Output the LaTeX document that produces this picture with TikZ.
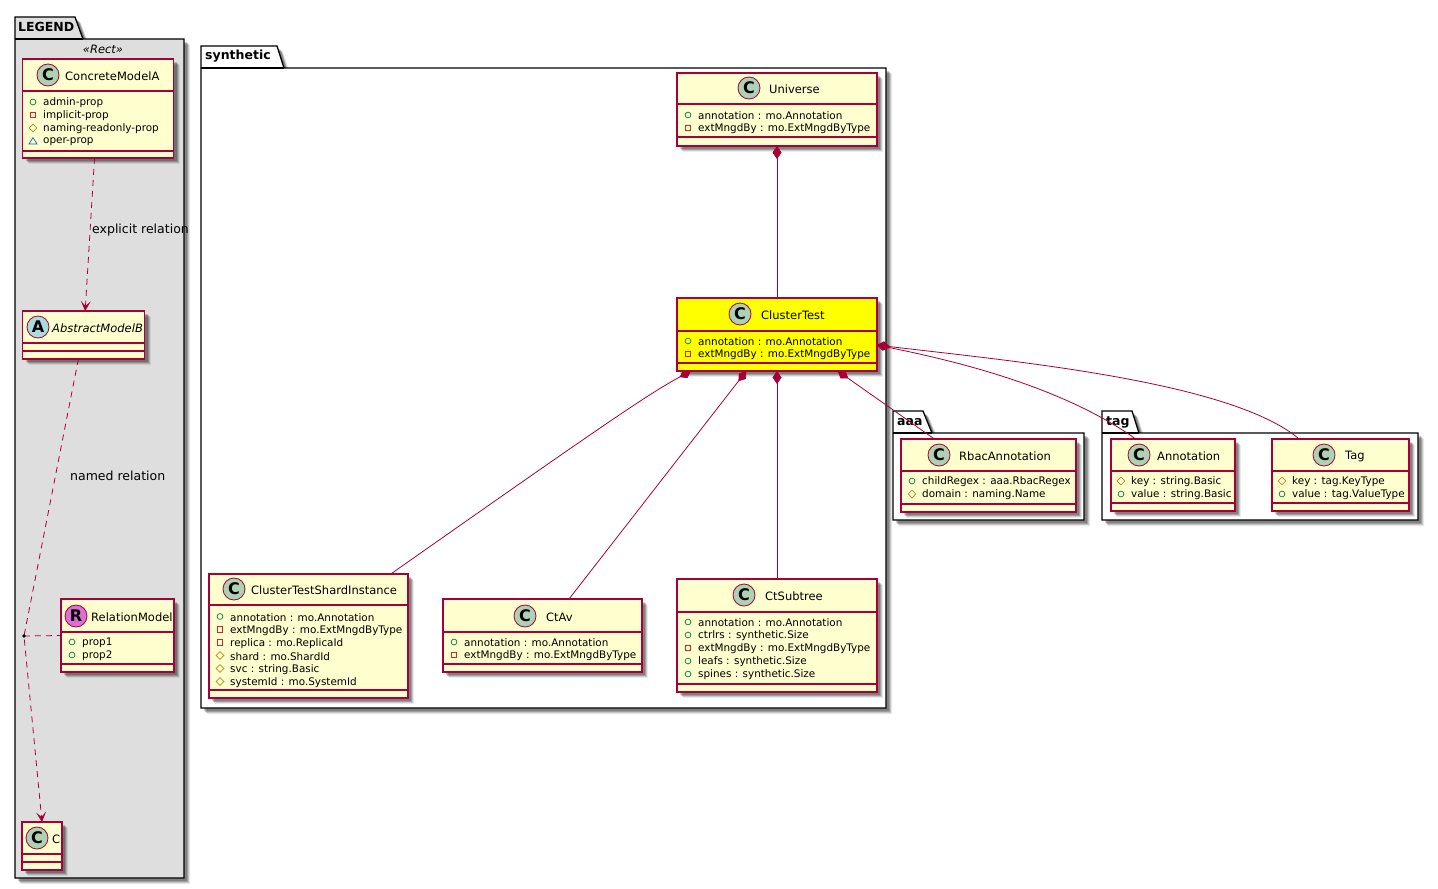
\documentclass[tikz,border=0pt]{standalone}
\usepackage{fontspec}
\setmainfont{DejaVu Sans}
\usetikzlibrary{arrows.meta,shadows}

\definecolor{umlline}{HTML}{A80036}
\definecolor{umlfill}{HTML}{FEFECE}
\definecolor{testfill}{HTML}{FFFF00}
\definecolor{spotc}{HTML}{ADD1B2}
\definecolor{spota}{HTML}{A9DCDF}
\definecolor{spotr}{HTML}{DA70D6}
\definecolor{pubcol}{HTML}{038048}
\definecolor{privcol}{HTML}{C82930}
\definecolor{protcol}{HTML}{B38D22}
\definecolor{pkgcol}{HTML}{1963A0}

\tikzset{
  umlshadow/.style={drop shadow={shadow xshift=6pt, shadow yshift=-6pt, fill=black, opacity=0.08},
    drop shadow={shadow xshift=5pt, shadow yshift=-5pt, fill=black, opacity=0.14},
    drop shadow={shadow xshift=4pt, shadow yshift=-4pt, fill=black, opacity=0.20},
    drop shadow={shadow xshift=3pt, shadow yshift=-3pt, fill=black, opacity=0.20}},
  umlclass/.style={draw=umlline, line width=1.15pt, fill=umlfill, anchor=north west, inner sep=0pt, outer sep=0pt, umlshadow},
  umlsep/.style={draw=umlline, line width=1.15pt},
  umlspot/.style={circle, draw=umlline, line width=0.8pt, minimum size=22pt, inner sep=0pt, font=\fontsize{16}{16}\bfseries},
  umltitle/.style={font=\fontsize{11.5}{12}\selectfont, inner sep=0pt, anchor=west},
  umlmember/.style={font=\fontsize{10.4}{12}\selectfont, inner sep=0pt, anchor=west},
  umllabel/.style={font=\fontsize{12.5}{12}\selectfont, inner sep=0pt, anchor=west},
  umlpkg/.style={draw=black, line width=1.3pt, umlshadow},
  umlpkgname/.style={font=\fontsize{12.5}{13}\bfseries, inner sep=0pt, anchor=west},
  umldash/.style={draw=umlline, line width=0.8pt, dash pattern=on 6pt off 5pt},
  umlcomp/.style={draw=umlline, line width=0.8pt, {Diamond[length=13pt,width=9pt,fill=umlline]}-},
  pub/.pic={\draw[draw=pubcol, line width=0.7pt] (0,0) circle (2.9);},
  priv/.pic={\draw[draw=privcol, line width=0.7pt] (-2.8,-2.8) rectangle (2.8,2.8);},
  prot/.pic={\draw[draw=protcol, line width=0.7pt] (-3.8,0) -- (0,-3.8) -- (3.8,0) -- (0,3.8) -- cycle;},
  pkg/.pic={\draw[draw=pkgcol, line width=0.7pt] (-4,3) -- (0,-3.4) -- (4,3) -- cycle;},
}

% Title row of a class: name, y, spot x, spot colour, letter, text x, text
\newcommand{\classhead}[7]{
  \node[umlspot, fill=#4] (#1-spot) at (#3,#2) {#5};
  \node[umltitle] (#1-title) at (#6,#2+1) {#7};
}
% Members of a class: name, icon x, first y, list of kind/text
\newcommand{\classmembers}[4]{
  \foreach \kind/\txt [count=\i] in {#4} {
    \pic at (#2,#3+13*\i-13) {\kind};
    \node[umlmember] (#1-m\i) at (#2+10,#3+13*\i-12.2) {\txt};
  }
}

\begin{document}
\begin{tikzpicture}[x=1pt, y=-1pt, >={Stealth[length=10pt,width=10pt,inset=5pt]}]
  \useasboundingbox (0,0) rectangle (1438,889);

  % Packages.
  \draw[umlpkg, fill=black!13] (15,39) -- (15,17) -- (75,17) -- (83,39) -- (184,39) -- (184,878) -- (15,878) -- cycle;
  \draw[line width=1.3pt] (15,39) -- (83,39);
  \node[umlpkgname] (legendname) at (18,27) {LEGEND};
  \node[font=\fontsize{11.5}{12}\itshape, inner sep=0pt] (legendstereo) at (103,49) {«Rect»};

  \draw[umlpkg, fill=white] (201,68) -- (201,46) -- (277,46) -- (284,68) -- (886,68) -- (886,708) -- (201,708) -- cycle;
  \draw[line width=1.3pt] (201,68) -- (284,68);
  \node[umlpkgname] (synthname) at (205,56) {synthetic};

  \draw[umlpkg, fill=white] (893,433) -- (893,411) -- (923,411) -- (932,433) -- (1084,433) -- (1084,520) -- (893,520) -- cycle;
  \draw[line width=1.3pt] (893,433) -- (932,433);
  \node[umlpkgname] (aaaname) at (897,422) {aaa};

  \draw[umlpkg, fill=white] (1102,433) -- (1102,411) -- (1132,411) -- (1139,433) -- (1418,433) -- (1418,520) -- (1102,520) -- cycle;
  \draw[line width=1.3pt] (1102,433) -- (1139,433);
  \node[umlpkgname] (tagname) at (1106,422) {tag};

  % Legend classes.
  \node[umlclass, minimum width=151, minimum height=99] (concrete) at (22.5,59) {};
  \draw[umlsep] (22.5,91) -- (173.5,91) (22.5,151) -- (173.5,151);
  \classhead{concrete}{75}{48}{spotc}{C}{65}{ConcreteModelA}
  \classmembers{concrete}{33}{102}{pub/admin-prop, priv/implicit-prop, prot/naming-readonly-prop, pkg/oper-prop}

  \node[umlclass, minimum width=122, minimum height=48] (abstract) at (22.5,311) {};
  \draw[umlsep] (22.5,343) -- (144.5,343) (22.5,351) -- (144.5,351);
  \classhead{abstract}{327}{38}{spota}{A}{52}{\itshape AbstractModelB}

  \node[umlclass, minimum width=113, minimum height=73] (relation) at (61,599) {};
  \draw[umlsep] (61,632) -- (174,632) (61,664) -- (174,664);
  \classhead{relation}{616}{76}{spotr}{R}{91}{RelationModel}
  \classmembers{relation}{72}{642}{pub/prop1, pub/prop2}

  \node[umlclass, minimum width=40, minimum height=48] (cclass) at (22,822) {};
  \draw[umlsep] (22,854) -- (62,854) (22,862) -- (62,862);
  \classhead{cclass}{838}{37}{spotc}{C}{52}{C}

  % Classes of synthetic.
  \node[umlclass, minimum width=200, minimum height=73] (universe) at (677,73) {};
  \draw[umlsep] (677,104) -- (877,104) (677,137) -- (877,137);
  \classhead{universe}{88}{749}{spotc}{C}{769}{Universe}
  \classmembers{universe}{688}{115}{pub/annotation : mo.Annotation, priv/extMngdBy : mo.ExtMngdByType}

  \node[umlclass, minimum width=200, minimum height=73, fill=testfill] (clustertest) at (677,298) {};
  \draw[umlsep] (677,331) -- (877,331) (677,363) -- (877,363);
  \classhead{clustertest}{314}{740}{spotc}{C}{761}{ClusterTest}
  \classmembers{clustertest}{688}{341}{pub/annotation : mo.Annotation, priv/extMngdBy : mo.ExtMngdByType}

  \node[umlclass, minimum width=199, minimum height=124] (shard) at (209,574) {};
  \draw[umlsep] (209,605) -- (408,605) (209,690) -- (408,690);
  \classhead{shard}{589}{234}{spotc}{C}{251}{ClusterTestShardInstance}
  \classmembers{shard}{220}{616.5}{pub/annotation : mo.Annotation, priv/extMngdBy : mo.ExtMngdByType, priv/replica : mo.ReplicaId, prot/shard : mo.ShardId, prot/svc : string.Basic, prot/systemId : mo.SystemId}

  \node[umlclass, minimum width=199, minimum height=73] (ctav) at (443,599) {};
  \draw[umlsep] (443,632) -- (642,632) (443,664) -- (642,664);
  \classhead{ctav}{616}{525}{spotc}{C}{546}{CtAv}
  \classmembers{ctav}{454}{642}{pub/annotation : mo.Annotation, priv/extMngdBy : mo.ExtMngdByType}

  \node[umlclass, minimum width=200, minimum height=113] (ctsubtree) at (677,579) {};
  \draw[umlsep] (677,612) -- (877,612) (677,684) -- (877,684);
  \classhead{ctsubtree}{595}{744}{spotc}{C}{765}{CtSubtree}
  \classmembers{ctsubtree}{688}{622}{pub/annotation : mo.Annotation, pub/ctrlrs : synthetic.Size, priv/extMngdBy : mo.ExtMngdByType, pub/leafs : synthetic.Size, pub/spines : synthetic.Size}

  % Classes of aaa and tag.
  \node[umlclass, minimum width=175, minimum height=73] (rbac) at (901,439) {};
  \draw[umlsep] (901,471) -- (1076,471) (901,504) -- (1076,504);
  \classhead{rbac}{455}{939}{spotc}{C}{959}{RbacAnnotation}
  \classmembers{rbac}{912}{481}{pub/childRegex : aaa.RbacRegex, prot/domain : naming.Name}

  \node[umlclass, minimum width=124, minimum height=72] (annotation) at (1111,439) {};
  \draw[umlsep] (1111,471) -- (1235,471) (1111,503) -- (1235,503);
  \classhead{annotation}{455}{1139}{spotc}{C}{1157}{Annotation}
  \classmembers{annotation}{1121}{481}{prot/key : string.Basic, pub/value : string.Basic}

  \node[umlclass, minimum width=137, minimum height=72] (tagclass) at (1272,439) {};
  \draw[umlsep] (1272,471) -- (1409,471) (1272,503) -- (1409,503);
  \classhead{tagclass}{455}{1324}{spotc}{C}{1345}{Tag}
  \classmembers{tagclass}{1282}{481}{prot/key : tag.KeyType, pub/value : tag.ValueType}

  % Legend relations.
  \coordinate (reldot) at (24,636);
  \draw[umldash, ->] (concrete.-94.6) -- (abstract.86.5);
  \draw[umldash, ->] (abstract.-102.6) -- (reldot) -- (cclass.north);
  \draw[umldash] (reldot) -- (relation.west);
  \fill[black] (reldot) circle (1.8);
  \node[umllabel] (explicitlabel) at (92,230) {explicit relation};
  \node[umllabel] (namedlabel) at (70,476) {named relation};

  % Compositions.
  \draw[umlcomp] (universe.south) -- (clustertest.north);
  \draw[umlcomp] (clustertest.-157) .. controls (650,393) and (610,420) .. (shard.37.6);
  \draw[umlcomp] (clustertest.-130.8) -- (ctav.54.2);
  \draw[umlcomp] (clustertest.south) -- (ctsubtree.north);
  \draw[umlcomp] (clustertest.-31.2) -- (rbac.146.2);
  \draw[umlcomp] (clustertest.-6.3) .. controls (950,360) and (1060,385) .. (annotation.136.5);
  \draw[umlcomp] (clustertest.-6.3) .. controls (1000,360) and (1230,380) .. (tagclass.139.7);
\end{tikzpicture}
\end{document}
